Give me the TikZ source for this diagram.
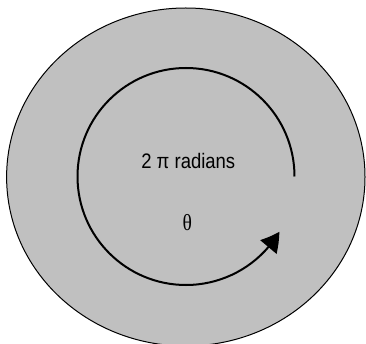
\documentclass[tikz,border=0pt]{standalone}
\usepackage{fontspec}
\usepackage{graphicx}
\setmainfont{Liberation Sans}
\newfontfamily\serifgreek{Liberation Serif}
\usetikzlibrary{arrows.meta,bending}
\definecolor{diskgray}{RGB}{192,192,192}
\tikzset{
  disk/.style={draw=black, line width=1pt, fill=diskgray},
  turn/.style={draw=black, line width=2pt, -{Triangle[length=19pt,width=21pt,bend]}},
  lbl/.style={anchor=base, inner sep=0pt, text=black}
}
\begin{document}
\begin{tikzpicture}[x=1pt,y=-1pt]
  \useasboundingbox (0,0) rectangle (366,344);
  \fill[white] (0,0) rectangle (366,344);
  \coordinate (c0) at (185.8,177);
  \coordinate (c1) at (186,176.5);
  \draw[disk] (c0) ellipse [x radius=179.2, y radius=169];
  \draw[turn] ([shift={(0:108.5)}]c1) arc[start angle=0, end angle=-329.4, radius=108.5];
  \node[lbl] (rad) at (188.3,169) {\scalebox{0.88}[1]{\fontsize{21}{25}\selectfont 2 π radians}};
  \node[lbl] (th) at (187.3,231) {\scalebox{0.85}[1]{\serifgreek\fontsize{23}{27}\selectfont θ}};
\end{tikzpicture}
\end{document}
